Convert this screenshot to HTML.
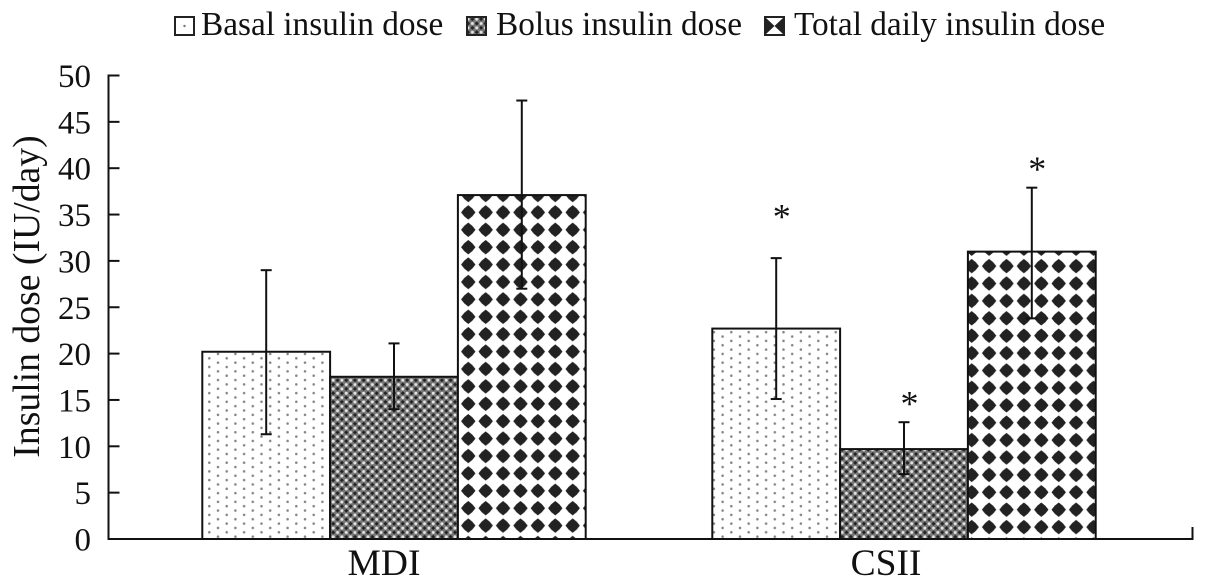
<!DOCTYPE html>
<html>
<head>
<meta charset="utf-8">
<style>
html,body{margin:0;padding:0;background:#fff;}
svg{display:block;font-family:"Liberation Serif",serif;fill:#111;}
</style>
</head>
<body>
<svg id="chart" xmlns="http://www.w3.org/2000/svg" width="1205" height="588" viewBox="0 0 1205 588">
<defs>
<pattern id="pat-dots" patternUnits="userSpaceOnUse" width="17.4" height="8.7" x="205" y="351.8">
<rect width="17.4" height="8.7" fill="#fff"/>
<circle cx="4.3" cy="6.5" r="1.25" fill="#858585"/>
<circle cx="13" cy="2.15" r="1.25" fill="#858585"/>
</pattern>
<pattern id="pat-hatch" patternUnits="userSpaceOnUse" width="8.7" height="8.7" x="331" y="378">
<rect width="8.7" height="8.7" fill="#777"/>
<circle cx="2.2" cy="2.2" r="1.5" fill="#e4e4e4"/>
<circle cx="6.55" cy="6.55" r="1.5" fill="#e4e4e4"/>
<path d="M6.55 0.2L8.6 2.2L6.55 4.2L4.5 2.2Z" fill="#222"/>
<path d="M2.2 4.5L4.2 6.55L2.2 8.6L0.2 6.55Z" fill="#222"/>
</pattern>
<pattern id="pat-diamond-a" patternUnits="userSpaceOnUse" width="17.4" height="17.4" x="459.57" y="186.3">
<rect width="17.4" height="17.4" fill="#fff"/>
<path d="M8.7 1.5L12.7 4.7L15.9 8.7L12.7 12.7L8.7 15.9L4.7 12.7L1.5 8.7L4.7 4.7Z" fill="#222"/>
</pattern>
<pattern id="pat-diamond-b" patternUnits="userSpaceOnUse" width="17.4" height="17.4" x="963" y="240">
<rect width="17.4" height="17.4" fill="#fff"/>
<path d="M8.7 1.5L12.7 4.7L15.9 8.7L12.7 12.7L8.7 15.9L4.7 12.7L1.5 8.7L4.7 4.7Z" fill="#222"/>
</pattern>
</defs>
<g id="legend"></g>
<g id="bars"></g>
<g id="axes"></g>
<g id="errors"></g>
<text transform="translate(39,296.5) rotate(-90)" text-anchor="middle" font-size="37.7">Insulin dose (IU/day)</text>
</svg>
<script>
const categories = ['MDI', 'CSII'];
const seriesNames = ['Basal insulin dose', 'Bolus insulin dose', 'Total daily insulin dose'];
const basalValues = [20.2, 22.7];
const bolusValues = [17.5, 9.7];
const totalValues = [37.1, 31.0];
const basalUpper = [29.0, 30.3];
const bolusUpper = [21.1, 12.6];
const totalUpper = [47.3, 37.9];
const basalLower = [11.3, 15.1];
const bolusLower = [14.0, 7.0];
const totalLower = [27.0, 23.8];
const basalSignificant = [false, true];
const bolusSignificant = [false, true];
const totalSignificant = [false, true];
const yTicks = [0, 5, 10, 15, 20, 25, 30, 35, 40, 45, 50];

const NS = 'http://www.w3.org/2000/svg';
const Y0 = 539, Y50 = 75.5, AX = 108.5, AXR = 1192.5;
const yScale = v => Y0 + (Y50 - Y0) * v / 50;
const catCenter = i => 394 + 510 * i;
const catLabelX = i => 384 + 502 * i;
const BAR = 127.8;
const barX = (c, s) => catCenter(c) - BAR * 1.5 + BAR * s;

function mk(parent, tag, attrs, text) {
  const el = document.createElementNS(NS, tag);
  for (const k in attrs) el.setAttribute(k, attrs[k]);
  if (text !== undefined) el.textContent = text;
  parent.appendChild(el);
  return el;
}
const ln = (p, x1, y1, x2, y2, w) => mk(p, 'line', {x1, y1, x2, y2, stroke: '#111', 'stroke-width': w});

const series = [
  {key: 'basal', v: basalValues, u: basalUpper, l: basalLower, sig: basalSignificant, fill: () => 'url(#pat-dots)', starGap: 29.5},
  {key: 'bolus', v: bolusValues, u: bolusUpper, l: bolusLower, sig: bolusSignificant, fill: () => 'url(#pat-hatch)', starGap: 6.5},
  {key: 'total', v: totalValues, u: totalUpper, l: totalLower, sig: totalSignificant, fill: c => c === 0 ? 'url(#pat-diamond-a)' : 'url(#pat-diamond-b)', starGap: 6.5}
];

const gBars = document.getElementById('bars');
const gErr = document.getElementById('errors');
const gAxes = document.getElementById('axes');
const gLegend = document.getElementById('legend');

categories.forEach((cat, c) => {
  series.forEach((s, i) => {
    const x = barX(c, i), top = yScale(s.v[c]);
    const bar = mk(gBars, 'rect', {x, y: top, width: BAR, height: Y0 - top, fill: s.fill(c), stroke: '#111', 'stroke-width': 2});
    
    

    const cx = x + BAR / 2;
    const g = mk(gErr, 'g', {});
    
    
    const yu = yScale(s.u[c]), yl = yScale(s.l[c]);
    ln(g, cx, yu, cx, yl, 2);
    ln(g, cx - 5.5, yu, cx + 5.5, yu, 2);
    ln(g, cx - 5.5, yl, cx + 5.5, yl, 2);

    if (s.sig[c]) {
      const star = mk(gErr, 'text', {x: cx + 5.5, y: yu - s.starGap, 'text-anchor': 'middle', 'font-size': 36}, '*');
      
      
    }
  });
  const lab = mk(gAxes, 'text', {x: catLabelX(c), y: 575, 'text-anchor': 'middle', 'font-size': 37.5}, cat);
  
  
});

const yAxis = ln(gAxes, AX, Y50 - 1, AX, Y0 + 1, 2);


const xAxis = ln(gAxes, AX - 1, Y0, AXR + 1, Y0, 2);


const endTick = ln(gAxes, AXR, Y0, AXR, Y0 - 12, 2);



yTicks.forEach(t => {
  const y = yScale(t);
  if (t > 0) {
    const tick = ln(gAxes, AX, y, AX + 11, y, 2);
    
    
  }
  const lab = mk(gAxes, 'text', {x: 91, y: y + 11.5, 'text-anchor': 'end', 'font-size': 33}, String(t));
  
  
});

const legendSwatchX = [175, 467, 765];
const legendTextX = [201, 496, 794];
const legendFills = ['#fff', 'url(#pat-hatch)', 'none'];
seriesNames.forEach((name, i) => {
  const g = mk(gLegend, 'g', {});
  
  
  const sx = legendSwatchX[i];
  mk(g, 'rect', {x: sx, y: 17, width: 19, height: 18, fill: i === 2 ? '#fff' : legendFills[i], stroke: '#222', 'stroke-width': 2});
  if (i === 0) mk(g, 'circle', {cx: sx + 9.5, cy: 26, r: 1.2, fill: '#777'});
  if (i === 2) {
    mk(g, 'path', {d: `M${sx} 17L${sx + 9.5} 26L${sx} 35Z`, fill: '#222'});
    mk(g, 'path', {d: `M${sx + 19} 17L${sx + 9.5} 26L${sx + 19} 35Z`, fill: '#222'});
  }
  mk(g, 'text', {x: legendTextX[i], y: 35, 'font-size': 33.3}, name);
});
</script>
</body>
</html>
